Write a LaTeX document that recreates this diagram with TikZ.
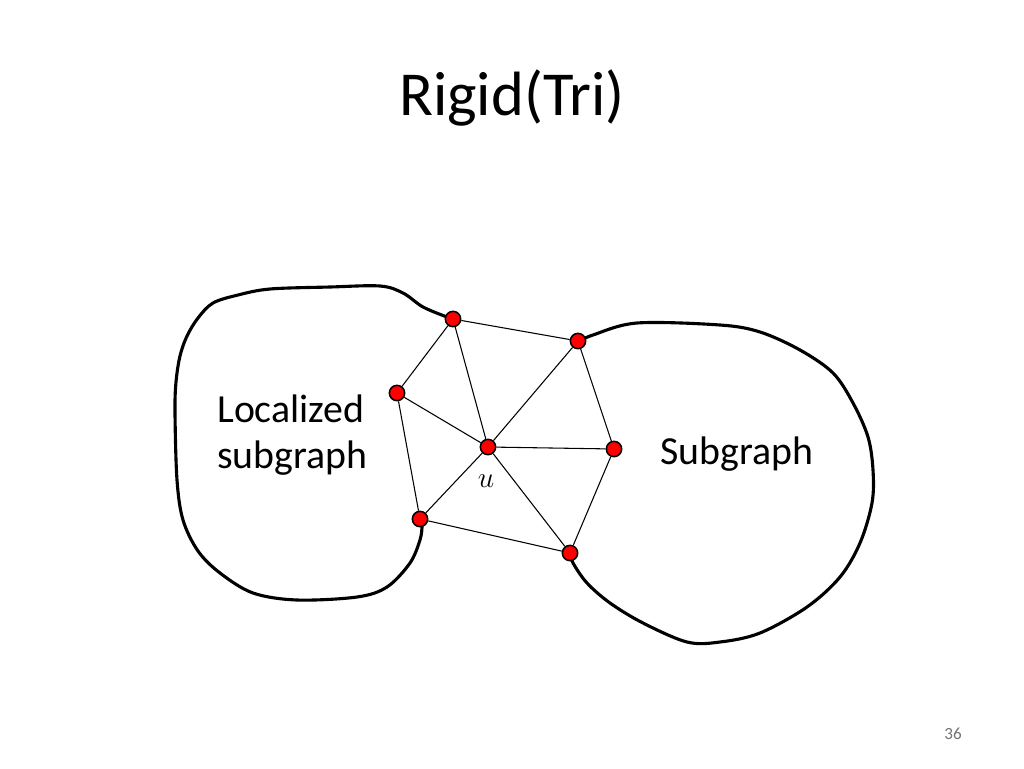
\documentclass[tikz,border=0pt]{standalone}
\usepackage{fontspec}
\setmainfont{Carlito}
\begin{document}
\begin{tikzpicture}[x=0.0248046875cm,y=-0.0248046875cm,
  vtx/.style={circle,draw=black,fill=red,line width=1.1pt,minimum size=0.38cm,inner sep=0pt},
  edge/.style={line width=0.75pt,black},
  blob/.style={line width=2.2pt,black,line join=round,line cap=round},
  lbl/.style={inner sep=0pt,anchor=base west,font=\fontsize{28bp}{32.5bp}\selectfont}]
\useasboundingbox (0,0) rectangle (1024,768);
\node[inner sep=0pt,anchor=base,font=\fontsize{44bp}{50bp}\selectfont] (title) at (512,115) {Rigid(Tri)};
\node[inner sep=0pt,anchor=base,text=black!55,font=\fontsize{12bp}{14bp}\selectfont] (pg) at (953,739) {36};

% blobs
\draw[blob] plot[smooth,tension=0.55] coordinates {(447,317) (423,307) (403,293) (380,286) (330,287) (270,289) (238,295) (213,303) (198,318) (187,336) (180,356) (176,382) (175,413) (177,480) (183,520) (198,551) (220,573) (253,593) (297,600) (357,597) (387,587) (410,563) (420,540) (422,527)};
\draw[blob] plot[smooth,tension=0.55] coordinates {(578,342) (593,335) (637,323) (720,325) (760,332) (800,350) (833,373) (853,403) (868,437) (873,470) (872,503) (860,543) (840,577) (807,607) (760,633) (720,642) (687,642) (643,623) (610,603) (587,583) (573,563) (570,553)};

% vertices
\node[vtx] (a) at (453,319) {};
\node[vtx] (b) at (578,341) {};
\node[vtx] (c) at (397,393) {};
\node[vtx] (u) at (488,447) {};
\node[vtx] (d) at (614,449) {};
\node[vtx] (e) at (420,519) {};
\node[vtx] (f) at (570,553) {};

\draw[edge] (a) -- (b);
\draw[edge] (a) -- (c);
\draw[edge] (a) -- (u);
\draw[edge] (b) -- (u);
\draw[edge] (b) -- (d);
\draw[edge] (c) -- (u);
\draw[edge] (c) -- (e);
\draw[edge] (u) -- (e);
\draw[edge] (u) -- (d);
\draw[edge] (u) -- (f);
\draw[edge] (e) -- (f);
\draw[edge] (d) -- (f);

\node[inner sep=0pt,anchor=base,font=\fontsize{21bp}{24bp}\selectfont] (ulbl) at (486,487) {$u$};
\node[lbl] (loc1) at (217,422) {Localized};
\node[lbl] (loc2) at (217,468) {subgraph};
\node[lbl] (sub) at (660,464) {Subgraph};
\end{tikzpicture}
\end{document}
